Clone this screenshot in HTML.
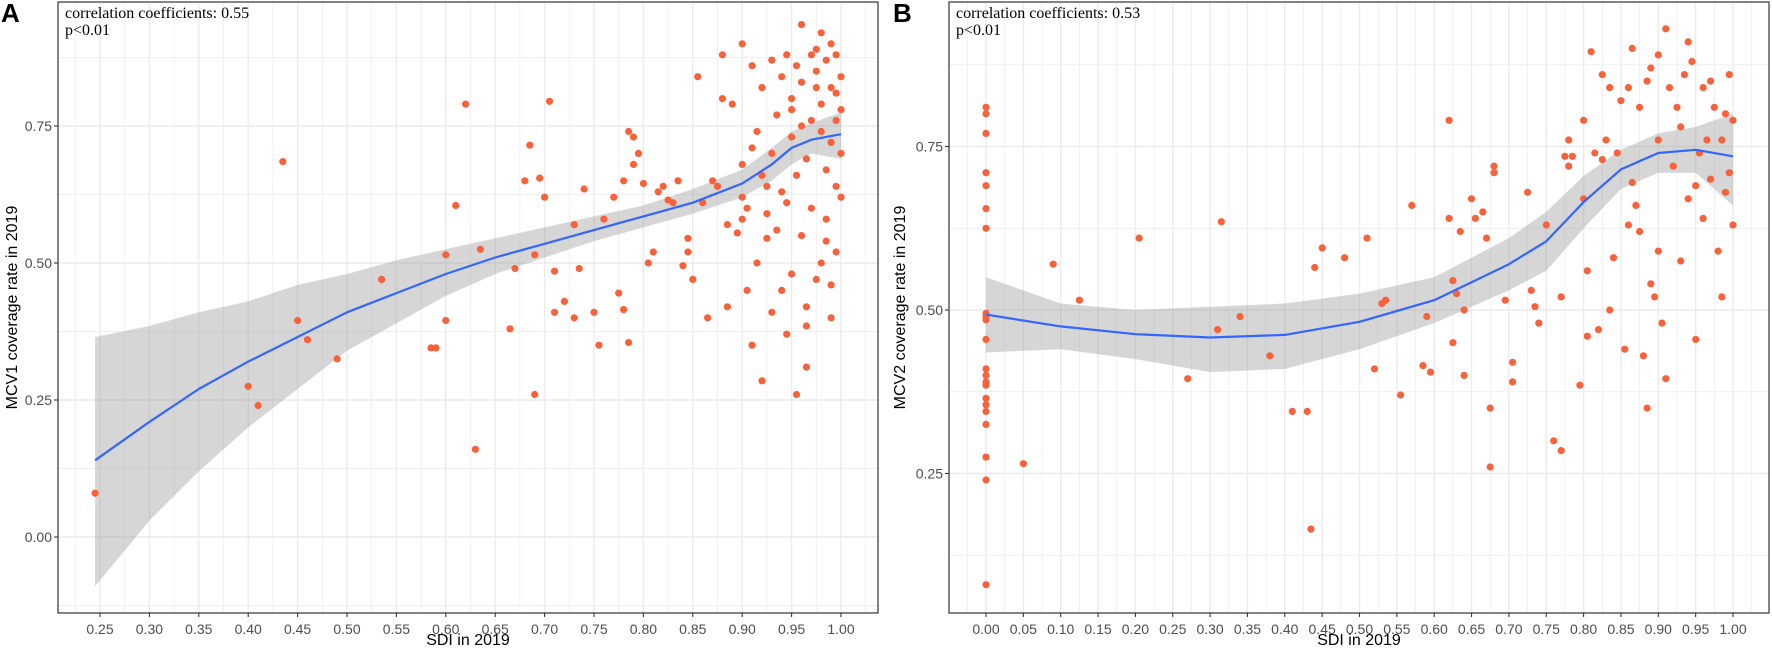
<!DOCTYPE html>
<html><head><meta charset="utf-8"><style>
html,body{margin:0;padding:0;background:#fff;}
svg{display:block;}
text{font-family:"Liberation Sans",Arial,sans-serif;}
text.serif{font-family:"Liberation Serif","Times New Roman",serif;}
</style></head><body>
<svg id="chart" width="1772" height="654" xmlns="http://www.w3.org/2000/svg"></svg>
<script>
// ---------- Panel A data ----------
const aPointsX = [0.245,0.40,0.41,0.435,0.45,0.46,0.49,0.535,0.585,0.59,0.60,0.60,0.61,0.62,0.63,0.635,0.665,0.67,0.68,0.685,0.69,0.69,0.695,0.70,0.705,0.71,0.71,0.72,0.73,0.73,0.735,0.74,0.75,0.755,0.76,0.77,0.775,0.78,0.785,0.78,0.785,0.79,0.79,0.795,0.80,0.805,0.81,0.815,0.82,0.825,0.83,0.835,0.84,0.845,0.845,0.85,0.855,0.86,0.865,0.87,0.875,0.88,0.885,0.885,0.89,0.895,0.90,0.90,0.905,0.905,0.91,0.91,0.91,0.915,0.92,0.92,0.92,0.925,0.925,0.93,0.93,0.935,0.935,0.94,0.94,0.94,0.945,0.945,0.95,0.95,0.95,0.955,0.955,0.955,0.96,0.96,0.96,0.965,0.965,0.965,0.965,0.97,0.97,0.97,0.975,0.975,0.98,0.98,0.98,0.98,0.985,0.985,0.985,0.99,0.99,0.99,0.99,0.99,0.995,0.995,0.995,0.995,0.995,1.0,1.0,1.0,1.0,0.975,0.95,0.93,0.925,0.915,0.90,0.88,0.90,0.985,0.975,0.96,0.945];
const aPointsY = [0.08,0.275,0.24,0.685,0.395,0.36,0.325,0.47,0.345,0.345,0.395,0.515,0.605,0.79,0.16,0.525,0.38,0.49,0.65,0.715,0.515,0.26,0.655,0.62,0.795,0.41,0.485,0.43,0.40,0.57,0.49,0.635,0.41,0.35,0.58,0.62,0.445,0.415,0.355,0.65,0.74,0.73,0.68,0.70,0.645,0.50,0.52,0.63,0.64,0.615,0.61,0.65,0.495,0.545,0.52,0.47,0.84,0.61,0.40,0.65,0.64,0.80,0.57,0.42,0.79,0.555,0.90,0.62,0.60,0.45,0.86,0.35,0.71,0.50,0.285,0.82,0.66,0.59,0.545,0.87,0.41,0.56,0.77,0.45,0.84,0.63,0.37,0.88,0.80,0.73,0.48,0.86,0.66,0.26,0.935,0.55,0.83,0.42,0.385,0.31,0.69,0.88,0.76,0.60,0.85,0.47,0.92,0.79,0.74,0.50,0.87,0.67,0.58,0.90,0.82,0.72,0.46,0.40,0.88,0.81,0.76,0.64,0.52,0.84,0.78,0.70,0.62,0.89,0.78,0.70,0.64,0.74,0.68,0.88,0.58,0.54,0.82,0.75,0.61];
const aFitX  = [0.245,0.30,0.35,0.40,0.45,0.50,0.55,0.60,0.65,0.70,0.75,0.80,0.85,0.90,0.93,0.95,0.97,1.0];
const aFitY  = [0.14,0.21,0.27,0.32,0.365,0.41,0.445,0.48,0.51,0.535,0.56,0.585,0.61,0.645,0.68,0.71,0.725,0.735];
const aFitLo = [-0.09,0.03,0.12,0.20,0.27,0.34,0.39,0.44,0.48,0.51,0.54,0.565,0.59,0.62,0.65,0.68,0.70,0.69];
const aFitHi = [0.365,0.385,0.41,0.43,0.46,0.48,0.505,0.525,0.545,0.565,0.585,0.605,0.635,0.67,0.71,0.74,0.755,0.775];
const aXTicks = ["0.25","0.30","0.35","0.40","0.45","0.50","0.55","0.60","0.65","0.70","0.75","0.80","0.85","0.90","0.95","1.00"];
const aYTicks = ["0.00","0.25","0.50","0.75"];

// ---------- Panel B data ----------
const bPointsX = [0,0,0,0,0,0,0,0,0,0,0,0,0,0,0,0,0,0,0,0,0,0,0.05,0.09,0.125,0.205,0.27,0.31,0.315,0.34,0.38,0.41,0.43,0.435,0.44,0.45,0.48,0.51,0.52,0.53,0.535,0.555,0.57,0.585,0.59,0.595,0.62,0.62,0.625,0.625,0.63,0.635,0.64,0.64,0.65,0.655,0.665,0.67,0.675,0.675,0.68,0.68,0.695,0.705,0.705,0.725,0.73,0.735,0.74,0.75,0.76,0.77,0.77,0.775,0.78,0.78,0.785,0.795,0.80,0.80,0.805,0.805,0.81,0.815,0.82,0.825,0.825,0.83,0.835,0.835,0.84,0.845,0.85,0.855,0.86,0.86,0.865,0.87,0.875,0.875,0.88,0.885,0.885,0.89,0.89,0.895,0.90,0.90,0.90,0.905,0.91,0.91,0.915,0.92,0.925,0.93,0.935,0.94,0.94,0.945,0.95,0.955,0.96,0.965,0.97,0.975,0.98,0.985,0.99,0.99,0.995,0.995,1.0,1.0,0.97,0.96,0.95,0.985,0.93,0.865];
const bPointsY = [0.81,0.80,0.77,0.71,0.69,0.655,0.625,0.495,0.49,0.485,0.455,0.41,0.40,0.39,0.385,0.365,0.355,0.345,0.325,0.275,0.24,0.08,0.265,0.57,0.515,0.61,0.395,0.47,0.635,0.49,0.43,0.345,0.345,0.165,0.565,0.595,0.58,0.61,0.41,0.51,0.515,0.37,0.66,0.415,0.49,0.405,0.79,0.64,0.545,0.45,0.525,0.62,0.50,0.40,0.67,0.64,0.65,0.61,0.35,0.26,0.72,0.71,0.515,0.42,0.39,0.68,0.53,0.505,0.48,0.63,0.30,0.285,0.52,0.735,0.76,0.72,0.735,0.385,0.79,0.67,0.56,0.46,0.895,0.74,0.47,0.73,0.86,0.76,0.84,0.50,0.58,0.74,0.82,0.44,0.84,0.63,0.695,0.66,0.81,0.62,0.43,0.85,0.35,0.54,0.87,0.52,0.89,0.76,0.59,0.48,0.93,0.395,0.84,0.72,0.81,0.78,0.86,0.91,0.67,0.88,0.455,0.74,0.84,0.76,0.70,0.81,0.59,0.52,0.80,0.68,0.86,0.71,0.79,0.63,0.85,0.64,0.69,0.76,0.575,0.90];
const bFitX  = [0,0.1,0.2,0.3,0.4,0.5,0.6,0.7,0.75,0.8,0.85,0.9,0.95,1.0];
const bFitY  = [0.493,0.475,0.463,0.458,0.462,0.482,0.515,0.57,0.605,0.665,0.715,0.74,0.745,0.735];
const bFitLo = [0.435,0.44,0.425,0.405,0.41,0.44,0.48,0.53,0.56,0.625,0.685,0.71,0.71,0.66];
const bFitHi = [0.55,0.51,0.50,0.505,0.51,0.525,0.55,0.61,0.65,0.705,0.745,0.77,0.78,0.80];
const bXTicks = ["0.00","0.05","0.10","0.15","0.20","0.25","0.30","0.35","0.40","0.45","0.50","0.55","0.60","0.65","0.70","0.75","0.80","0.85","0.90","0.95","1.00"];
const bYTicks = ["0.25","0.50","0.75"];

const NS = "http://www.w3.org/2000/svg";
const svg = document.getElementById('chart');
function mk(tag, attrs, parent){
  const e = document.createElementNS(NS, tag);
  for (const k in attrs) e.setAttribute(k, attrs[k]);
  (parent||svg).appendChild(e);
  return e;
}

function panel(cfg){
  const g = mk('g', {});
  
  
  const L=cfg.left, R=cfg.right, T=2, B=613;
  const xs = v => cfg.x0px + (v - cfg.x0v) * cfg.xk;
  const ys = v => cfg.y0px - (v - cfg.y0v) * cfg.yk;
  const vmin = (L - cfg.x0px)/cfg.xk + cfg.x0v, vmax = (R - cfg.x0px)/cfg.xk + cfg.x0v;
  for (let v = Math.ceil(vmin/0.025)*0.025; v <= vmax; v += 0.025){
    const major = Math.abs(Math.round(v/0.05)*0.05 - v) < 1e-6;
    const l = mk('line', {x1:xs(v),x2:xs(v),y1:T,y2:B,stroke:'#ebebeb','stroke-width':major?1.4:0.7}, g);
    
    
  }
  const ymin = cfg.y0v - (B - cfg.y0px)/cfg.yk, ymax = cfg.y0v + (cfg.y0px - T)/cfg.yk;
  for (let v = Math.ceil(ymin/0.125)*0.125; v <= ymax; v += 0.125){
    const major = Math.abs(Math.round(v/0.25)*0.25 - v) < 1e-6;
    const l = mk('line', {x1:L,x2:R,y1:ys(v),y2:ys(v),stroke:'#ebebeb','stroke-width':major?1.4:0.7}, g);
    
    
  }
  let d = '';
  cfg.fx.forEach((x,i)=>{ d += (i?'L':'M') + xs(x).toFixed(1) + ',' + ys(cfg.fhi[i]).toFixed(1); });
  for (let i=cfg.fx.length-1;i>=0;i--) d += 'L' + xs(cfg.fx[i]).toFixed(1) + ',' + ys(cfg.flo[i]).toFixed(1);
  const rib = mk('path', {d:d+'Z', fill:'#999999', 'fill-opacity':0.4}, g);
  
  
  cfg.px.forEach((x,i)=>{
    const c = mk('circle', {cx:xs(x).toFixed(1), cy:ys(cfg.py[i]).toFixed(1), r:3.6, fill:'#F8613A'}, g);
    
    
  });
  let ld = '';
  cfg.fx.forEach((x,i)=>{ ld += (i?'L':'M') + xs(x).toFixed(1) + ',' + ys(cfg.fy[i]).toFixed(1); });
  const fl = mk('path', {d:ld, fill:'none', stroke:'#3366FF', 'stroke-width':2.2, 'stroke-linejoin':'round'}, g);
  
  
  const bd = mk('rect', {x:L, y:T, width:R-L, height:B-T, fill:'none', stroke:'#333', 'stroke-width':1.2}, g);
  
  
  cfg.xt.forEach(t=>{
    const v = parseFloat(t), x = xs(v);
    mk('line', {x1:x,x2:x,y1:B,y2:B+4,stroke:'#333','stroke-width':1.1}, g);
    const tx = mk('text', {x:x, y:B+21, 'text-anchor':'middle', 'font-size':14, fill:'#4d4d4d'}, g);
    tx.textContent = t;
    
    
  });
  cfg.yt.forEach(t=>{
    const v = parseFloat(t), y = ys(v);
    mk('line', {x1:L-4,x2:L,y1:y,y2:y,stroke:'#333','stroke-width':1.1}, g);
    const tx = mk('text', {x:L-6, y:y+5, 'text-anchor':'end', 'font-size':14, fill:'#4d4d4d'}, g);
    tx.textContent = t;
    
    
  });
  const xt = mk('text', {x:(L+R)/2, y:645, 'text-anchor':'middle', 'font-size':16, fill:'#000'}, g);
  xt.textContent = 'SDI in 2019';
  
  
  const ytl = mk('text', {x:0, y:0, 'text-anchor':'middle', 'font-size':16, fill:'#000', transform:`translate(${cfg.ytx},${(T+B)/2}) rotate(-90)`}, g);
  ytl.textContent = cfg.ytitle;
  
  
  const a1 = mk('text', {x:L+7, y:18, 'font-size':16, fill:'#000', 'class':'serif'}, g);
  a1.textContent = cfg.corr;
  
  
  const a2 = mk('text', {x:L+7, y:35, 'font-size':16, fill:'#000', 'class':'serif'}, g);
  a2.textContent = 'p<0.01';
  
  
  const pl = mk('text', {x:cfg.labx, y:22, 'font-size':26, 'font-weight':'bold', fill:'#000'}, g);
  pl.textContent = cfg.label;
  
  
}

panel({name:'panel-a', left:58, right:878, x0v:0.5, x0px:347, xk:988, y0v:0, y0px:537, yk:548,
  px:aPointsX, py:aPointsY, fx:aFitX, fy:aFitY, flo:aFitLo, fhi:aFitHi, xt:aXTicks, yt:aYTicks,
  ytitle:'MCV1 coverage rate in 2019', ytx:17, corr:'correlation coefficients: 0.55', label:'A', labx:1});
panel({name:'panel-b', left:949, right:1769, x0v:0, x0px:986, xk:747, y0v:0, y0px:637, yk:654,
  px:bPointsX, py:bPointsY, fx:bFitX, fy:bFitY, flo:bFitLo, fhi:bFitHi, xt:bXTicks, yt:bYTicks,
  ytitle:'MCV2 coverage rate in 2019', ytx:905, corr:'correlation coefficients: 0.53', label:'B', labx:893});
</script>
</body></html>
